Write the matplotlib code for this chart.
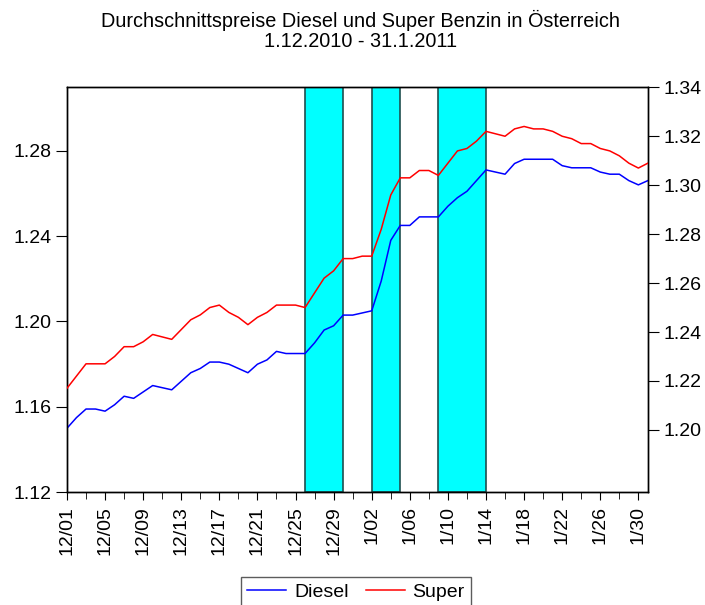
import numpy as np
import pandas as pd
import matplotlib
matplotlib.use("Agg")
import matplotlib.pyplot as plt

plt.rcParams['font.family'] = ['Liberation Sans', 'DejaVu Sans']

# daily prices 1.12.2010 - 31.1.2011
dates = pd.date_range('2010-12-01', '2011-01-31', freq='D')
diesel = [1.150, 1.155, 1.159, 1.159, 1.158, 1.161, 1.165, 1.164, 1.167, 1.170,
          1.169, 1.168, 1.172, 1.176, 1.178, 1.181, 1.181, 1.180, 1.178, 1.176,
          1.180, 1.182, 1.186, 1.185, 1.185, 1.185, 1.190, 1.196, 1.198, 1.203,
          1.203, 1.204, 1.205, 1.219, 1.238, 1.245, 1.245, 1.249, 1.249, 1.249,
          1.254, 1.258, 1.261, 1.266, 1.271, 1.270, 1.269, 1.274, 1.276, 1.276,
          1.276, 1.276, 1.273, 1.272, 1.272, 1.272, 1.270, 1.269, 1.269, 1.266,
          1.264, 1.266]
super_ = [1.217, 1.222, 1.227, 1.227, 1.227, 1.230, 1.234, 1.234, 1.236, 1.239,
          1.238, 1.237, 1.241, 1.245, 1.247, 1.250, 1.251, 1.248, 1.246, 1.243,
          1.246, 1.248, 1.251, 1.251, 1.251, 1.250, 1.256, 1.262, 1.265, 1.270,
          1.270, 1.271, 1.271, 1.282, 1.296, 1.303, 1.303, 1.306, 1.306, 1.304,
          1.309, 1.314, 1.315, 1.318, 1.322, 1.321, 1.320, 1.323, 1.324, 1.323,
          1.323, 1.322, 1.320, 1.319, 1.317, 1.317, 1.315, 1.314, 1.312, 1.309,
          1.307, 1.309]
# shaded periods
bands = [('2010-12-26', '2010-12-30'), ('2011-01-02', '2011-01-05'),
         ('2011-01-09', '2011-01-14')]

x = np.arange(len(dates))
labels = [f"{d.month}/{d.day:02d}" for d in dates]

fig = plt.figure(figsize=(7.05, 6.05), dpi=100)
ax = fig.add_axes([0.095, 0.1863, 0.824, 0.6694])

for start, end in bands:
    i0 = dates.get_loc(pd.Timestamp(start))
    i1 = dates.get_loc(pd.Timestamp(end))
    ax.axvspan(i0, i1, facecolor='#00FFFF', edgecolor='#1f4f4f', linewidth=1.2, zorder=1)

l1, = ax.plot(x, diesel, color='#0000FF', linewidth=1.1, zorder=3, label='Diesel')
ax.set_xlim(0, 61)
ax.set_ylim(1.12, 1.3097)
ax.set_yticks([1.12, 1.16, 1.20, 1.24, 1.28])
ax.set_yticklabels(['1.12', '1.16', '1.20', '1.24', '1.28'])

ax2 = ax.twinx()
l2, = ax2.plot(x, super_, color='#FF0000', linewidth=1.1, zorder=3, label='Super')
ax2.set_ylim(1.1745, 1.34)
ax2.set_yticks([1.20, 1.22, 1.24, 1.26, 1.28, 1.30, 1.32, 1.34])
ax2.set_yticklabels(['1.20', '1.22', '1.24', '1.26', '1.28', '1.30', '1.32', '1.34'])

ax.set_xticks(x[::4])
ax.set_xticklabels(labels[::4], rotation=90)
ax.set_xticks(x[2::4], minor=True)

ax.tick_params(axis='x', which='major', direction='out', length=6, labelsize=14, pad=4)
ax.tick_params(axis='x', which='minor', direction='out', length=5)
ax.tick_params(axis='y', direction='out', length=8, labelsize=14, pad=3)
ax2.tick_params(axis='y', direction='out', length=8, labelsize=14, pad=3)
for a in (ax, ax2):
    for s in a.spines.values():
        s.set_linewidth(1.0)
        s.set_color('black')

fig.suptitle('Durchschnittspreise Diesel und Super Benzin in Österreich\n1.12.2010 - 31.1.2011',
             fontsize=14.3, x=0.512, y=0.983, linespacing=1.05)

leg = fig.legend(handles=[l1, l2], loc='lower center', bbox_to_anchor=(0.505, -0.012),
                 ncol=2, fontsize=14, frameon=True, fancybox=False, edgecolor='#333333',
                 handlelength=2.0, columnspacing=0.9, handletextpad=0.4, borderpad=0.3,
                 borderaxespad=0.3)
leg.get_frame().set_linewidth(1.0)

fig.savefig('out.png', dpi=100)
